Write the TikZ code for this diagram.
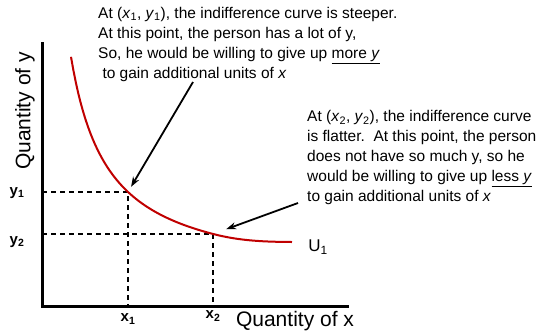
\documentclass[tikz,border=0pt]{standalone}
\usepackage{fontspec}
\setmainfont{Liberation Sans}
\usetikzlibrary{positioning,calc,arrows.meta}
\definecolor{curvered}{HTML}{C00000}

\begin{document}
\begin{tikzpicture}[x=1pt,y=-1pt,
    axisline/.style={line width=3pt, black},
    guide/.style={dashed, line width=1.2pt, dash pattern=on 5pt off 4pt, black},
    note/.style={inner sep=0pt, align=left, anchor=north west, font=\fontsize{15.5}{20}\selectfont},
    tick/.style={inner sep=0pt, font=\fontsize{15}{15}\selectfont\bfseries},
    axislabel/.style={inner sep=0pt, font=\fontsize{21}{21}\selectfont},
    pointer/.style={-{Stealth[length=10pt,width=7pt]}, line width=1.8pt, black}
  ]
    \useasboundingbox (0,0) rectangle (555,333);

    % Axes
    \coordinate (origin) at (42,306);
    \coordinate (ytop) at (42,42);
    \coordinate (xend) at (349,306);
    \draw[axisline] (ytop) -- (origin) -- (xend);
    \node[axislabel, rotate=90] (ylab) at (25,111) {Quantity of y};
    \node[axislabel] (xlab) at (295,321) {Quantity of x};

    % Bundles on the curve
    \coordinate (p1) at (128,192);
    \coordinate (p2) at (213,234);

    % Guide lines
    \draw[guide] (origin |- p1) -- (p1) -- (p1 |- origin);
    \draw[guide] (origin |- p2) -- (p2) -- (p2 |- origin);
    \node[tick] (y1) at (17,193) {y\textsubscript{1}};
    \node[tick] (y2) at (17,242) {y\textsubscript{2}};
    \node[tick] (x1) at (128,319) {x\textsubscript{1}};
    \node[tick] (x2) at (213,316) {x\textsubscript{2}};

    % Indifference curve
    \draw[curvered, line width=2pt] plot[domain=71:213, samples=60] (\x, {280.6 - 8368/(\x-33.6)})
      .. controls (240,241) and (265,241.8) .. (292,242);
    \node[font=\fontsize{17}{17}\selectfont, inner sep=0pt] (u1) at (318,247) {U\textsubscript{1}};

    % Notes
    \node[note] (steep) at (98,7) {At (\textit{x}\textsubscript{1}, \textit{y}\textsubscript{1}), the indifference curve is steeper.\\
      At this point, the person has a lot of y,\\
      So, he would be willing to give up \underline{more \textit{y}}\\
      \ to gain additional units of \textit{x}};
    \node[note] (flat) at (307,110) {At (\textit{x}\textsubscript{2}, \textit{y}\textsubscript{2}), the indifference curve\\
      is flatter.\ \ At this point, the person\\
      does not have so much y, so he\\
      would be willing to give up \underline{less \textit{y}}\\
      to gain additional units of \textit{x}};

    % Pointers
    \coordinate (s1) at (193,82);
    \coordinate (s2) at (298,203);
    \draw[pointer, shorten >=6pt] (s1) -- (p1);
    \draw[pointer, shorten >=14pt] (s2) -- (p2);
  \end{tikzpicture}
\end{document}
